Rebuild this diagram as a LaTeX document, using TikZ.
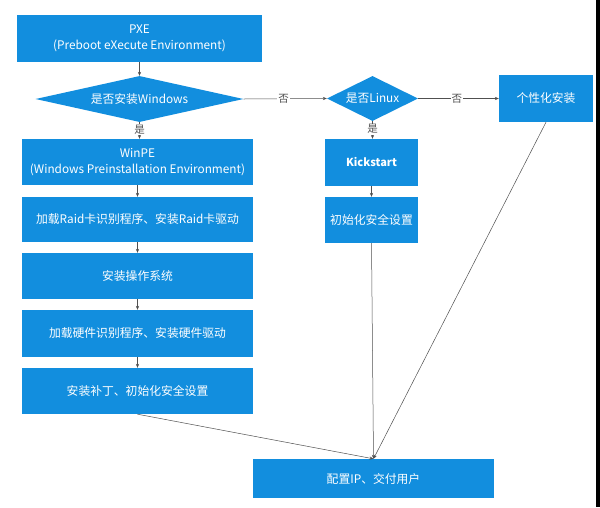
\documentclass[tikz,border=0pt]{standalone}
\usepackage{fontspec}
\setmainfont{Noto Sans CJK SC}
\usetikzlibrary{shapes.geometric,arrows.meta}
\definecolor{boxblue}{RGB}{18,142,222}
\definecolor{linegray}{RGB}{80,80,80}
\begin{document}
\begin{tikzpicture}[x=1pt,y=-1pt,
  every node/.style={font=\fontsize{11.8}{16}\selectfont},
  blockbox/.style={rectangle,fill=boxblue,text=white,inner sep=0pt,align=center},
  decbox/.style={diamond,fill=boxblue,text=white,inner sep=0pt,align=center},
  conn/.style={draw=linegray,line width=0.5pt,-{Stealth[length=4pt,width=3.2pt]}},
  lbl/.style={fill=white,text=linegray,inner sep=1pt,font=\fontsize{10.5}{12}\selectfont}]
\useasboundingbox (0,0) rectangle (600,507);
\fill[white] (0,0) rectangle (600,507);
\fill[black] (596,0) rectangle (600,507);
% nodes
\node[blockbox,minimum width=245pt,minimum height=47pt] (pxe) at (139.5,38.5) {PXE\\(Preboot eXecute Environment)};
\node[decbox,minimum width=208pt,minimum height=46pt,aspect=4.5] (dwin) at (139.5,99) {是否安装Windows};
\node[blockbox,minimum width=231pt,minimum height=46pt] (winpe) at (137.5,162) {WinPE\\(Windows Preinstallation Environment)};
\node[blockbox,minimum width=231pt,minimum height=45pt] (raid) at (137.5,219.5) {加载Raid卡识别程序、安装Raid卡驱动};
\node[blockbox,minimum width=231pt,minimum height=46pt] (os) at (137.5,276) {安装操作系统};
\node[blockbox,minimum width=231pt,minimum height=47pt] (hw) at (137.5,333.5) {加载硬件识别程序、安装硬件驱动};
\node[blockbox,minimum width=231pt,minimum height=46pt] (patch) at (137.5,391) {安装补丁、初始化安全设置};
\node[blockbox,minimum width=241pt,minimum height=39pt] (final) at (373.5,478.5) {配置IP、交付用户};
\node[decbox,minimum width=91pt,minimum height=45pt,aspect=2] (dlin) at (372.5,98.5) {是否Linux};
\node[blockbox,minimum width=93pt,minimum height=47pt,font=\fontsize{11}{15}\selectfont\bfseries] (kick) at (371.5,162.5) {Kickstart};
\node[blockbox,minimum width=93pt,minimum height=46pt] (init) at (371.5,220) {初始化安全设置};
\node[blockbox,minimum width=94pt,minimum height=47pt] (custom) at (546,98.5) {个性化安装};
% connectors
\draw[conn] (pxe.south -| dwin.north) -- (dwin.north);
\draw[conn] (dwin.south) -- node[lbl,pos=0.45] {是} (winpe.north -| dwin.south);
\draw[conn] (winpe.south) -- (raid.north);
\draw[conn] (raid.south) -- (os.north);
\draw[conn] (os.south) -- (hw.north);
\draw[conn] (hw.south) -- (patch.north);
\draw[conn] (dwin.east) -- node[lbl,pos=0.48] {否} (dlin.west);
\draw[conn] (dlin.east) -- node[lbl,pos=0.48] {否} (custom.west);
\draw[conn] (dlin.south) -- node[lbl,pos=0.45] {是} (kick.north -| dlin.south);
\draw[conn] (kick.south) -- (init.north);
\draw[conn] (patch.south) -- (final.north);
\draw[conn] (init.south) -- (final.north);
\draw[conn] (custom.south) -- (final.north);
\end{tikzpicture}
\end{document}
